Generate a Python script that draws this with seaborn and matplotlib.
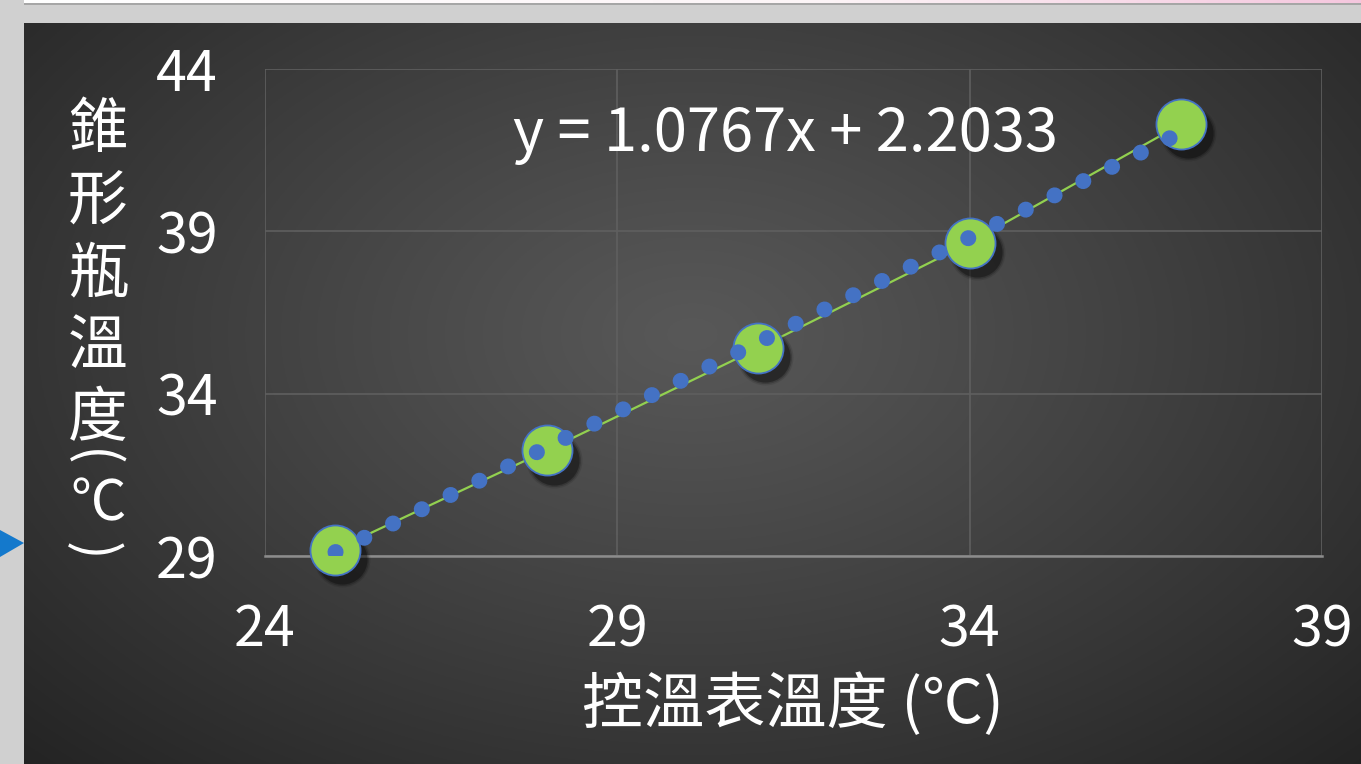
import numpy as np
import pandas as pd
import matplotlib
matplotlib.use("Agg")
import matplotlib.pyplot as plt
import matplotlib.transforms as mtransforms
from matplotlib.patches import Polygon, Rectangle
import seaborn as sns

# Measured temperatures (°C)
controller_temp = [25, 28, 31, 34, 37]
flask_temp = [29.2, 32.25, 35.4, 38.65, 42.3]

# Linear trendline reported for the series
slope = 1.0767
intercept = 2.2033

x_ticks = [24, 29, 34, 39]
y_ticks = [29, 34, 39, 44]

x_label = "控溫表溫度 (℃)"
y_label_main = ["錐", "形", "瓶", "溫", "度"]

sns.set_theme(style="dark")
plt.rcParams["font.family"] = ["Noto Sans CJK TC", "DejaVu Sans"]

W, H = 1361, 764
fig = plt.figure(figsize=(W / 100, H / 100), dpi=100, facecolor="#d0d0d0")

# --- window chrome around the chart -------------------------------------
chrome = fig.add_axes([0, 0, 1, 1])
chrome.set_xlim(0, W)
chrome.set_ylim(H, 0)
chrome.axis("off")
top_bar = np.linspace(0, 1, 400)[None, :]
chrome.imshow(
    np.dstack([np.interp(top_bar, [0, 0.6, 1], [1.0, 0.99, 0.96]),
               np.interp(top_bar, [0, 0.6, 1], [1.0, 0.96, 0.78]),
               np.interp(top_bar, [0, 0.6, 1], [1.0, 0.97, 0.87])]),
    extent=(24, W, 3, 0), aspect="auto", zorder=1)
chrome.add_patch(Rectangle((24, 3), W - 24, 2, color="#a6a6a6", lw=0, zorder=1))
chrome.add_patch(Polygon([(0, 530), (0, 557), (24, 543)], closed=True,
                         color="#1479cc", lw=0, zorder=1))

# --- dark chart panel with radial shading -------------------------------
panel = fig.add_axes([24 / W, 0, (W - 24) / W, (H - 23) / H])
panel.axis("off")
gx, gy = np.meshgrid(np.linspace(0, 1, 600), np.linspace(0, 1, 400))
dist = np.sqrt(((gx - 0.5) / 0.5) ** 2 + ((gy - 0.42) / 0.58) ** 2) / np.sqrt(2)
shade = 0.345 - (0.345 - 0.14) * np.clip(dist, 0, 1) ** 1.1
panel.imshow(np.dstack([shade] * 3), extent=(0, 1, 1, 0), aspect="auto")
panel.set_xlim(0, 1)
panel.set_ylim(1, 0)

# --- plot area -----------------------------------------------------------
left, right, top, bottom = 265, 1322, 69, 556
ax = fig.add_axes([left / W, (H - bottom) / H, (right - left) / W, (bottom - top) / H])
ax.set_facecolor("none")

df = pd.DataFrame({"ctrl": controller_temp, "flask": flask_temp})

# series line joining the measurements
sns.lineplot(data=df, x="ctrl", y="flask", sort=False, color="#92d050",
             linewidth=1.6, ax=ax, zorder=3, clip_on=False)

# soft drop shadow under the markers
shadow_tf = mtransforms.offset_copy(ax.transData, fig=fig, x=5, y=-6.5, units="points")
for grow, alpha in [(1.25, 0.10), (1.12, 0.18), (1.0, 0.32)]:
    sns.scatterplot(data=df, x="ctrl", y="flask", s=1300 * grow, color="black",
                    alpha=alpha, linewidth=0, ax=ax, zorder=4, clip_on=False,
                    transform=shadow_tf, legend=False)

sns.scatterplot(data=df, x="ctrl", y="flask", s=1300, color="#93d14f",
                edgecolor="#4472c4", linewidth=1.3, ax=ax, zorder=5,
                clip_on=False, legend=False)

# dotted linear trendline
trend_x = np.array([min(controller_temp), max(controller_temp)], dtype=float)
trend_y = slope * trend_x + intercept
ax.plot(trend_x, trend_y, color="#4472c4", linewidth=11.5,
        linestyle=(0, (0.01, 2.0)), dash_capstyle="round",
        solid_capstyle="round", zorder=6, clip_on=True)

ax.text(0.2346, 0.8645, f"y = {slope:.4f}x + {intercept:.4f}", transform=ax.transAxes,
        ha="left", va="center", color="white", fontsize=43, zorder=7)

ax.set_xlim(x_ticks[0], x_ticks[-1])
ax.set_ylim(y_ticks[0], y_ticks[-1])
ax.set_xticks(x_ticks)
ax.set_yticks(y_ticks)
ax.set_xticklabels([str(v) for v in x_ticks])
ax.set_yticklabels([str(v) for v in y_ticks])
ax.tick_params(axis="both", length=0, colors="white", labelsize=40)
ax.tick_params(axis="x", pad=33)
ax.tick_params(axis="y", pad=34)
ax.grid(True, color="#5f5f5f", linewidth=1.2)
for side in ["top", "right", "left"]:
    ax.spines[side].set_visible(False)
ax.spines["bottom"].set_color("#8c8c8c")
ax.spines["bottom"].set_linewidth(1.8)
ax.set_xlabel("")
ax.set_ylabel("")

fig.text(793 / W, 1 - 705 / H, x_label, ha="center", va="center", color="white",
         fontsize=44)

# stacked vertical axis title
fig.text(98 / W, 1 - 275 / H, "\n".join(y_label_main), ha="center", va="center",
         color="white", fontsize=43, linespacing=1.24)
fig.text(91 / W, 1 - 458 / H, "(", ha="center", va="center", color="white",
         fontsize=40, rotation=-90)
fig.text(98 / W, 1 - 505 / H, "℃", ha="center", va="center", color="white",
         fontsize=40)
fig.text(91 / W, 1 - 551 / H, ")", ha="center", va="center", color="white",
         fontsize=40, rotation=-90)

fig.savefig("out.png", dpi=100, facecolor=fig.get_facecolor())
